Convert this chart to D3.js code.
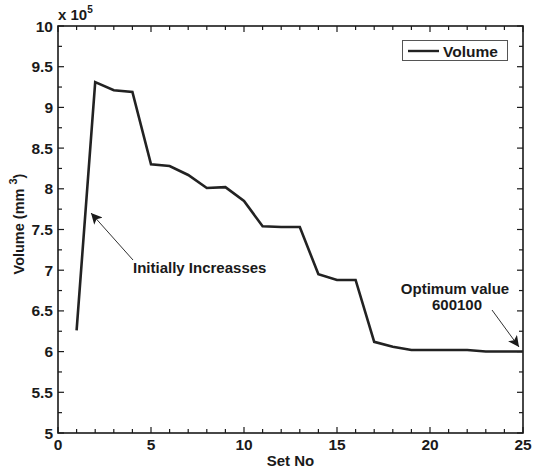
<!DOCTYPE html>
<html>
<head>
<meta charset="utf-8">
<script src="https://cdn.jsdelivr.net/npm/d3@7"></script>
<style>
  body { margin: 0; background: #fff; }
  svg { display: block; font-family: "Liberation Sans", Arial, sans-serif; font-weight: bold; }
</style>
</head>
<body>
<svg id="chart" width="533" height="469"></svg>
<script>
const setNo = [1,2,3,4,5,6,7,8,9,10,11,12,13,14,15,16,17,18,19,20,21,22,23,24,25];
const volume = [6.26,9.31,9.21,9.19,8.30,8.28,8.17,8.01,8.02,7.85,7.54,7.53,7.53,6.95,6.88,6.88,6.12,6.06,6.02,6.02,6.02,6.02,6.001,6.001,6.001];
const xTicks = [0,5,10,15,20,25];
const yTicks = [5,5.5,6,6.5,7,7.5,8,8.5,9,9.5,10];
const seriesName = "Volume";

const svg = d3.select("#chart");
const m = {l: 58, r: 523, t: 26, b: 433};
const x = d3.scaleLinear().domain([0,25]).range([m.l, m.r]);
const y = d3.scaleLinear().domain([5,10]).range([m.b, m.t]);

const ink = "#1a1a1a";

// frame
svg.append("rect").attr("x", m.l).attr("y", m.t).attr("width", m.r-m.l).attr("height", m.b-m.t)
  .attr("fill","none").attr("stroke", ink).attr("stroke-width", 1.6);

const xMinor = d3.range(0,26,1);
const yMinor = d3.range(5,10.001,0.25);

function tick(x1,y1,x2,y2){ svg.append("line").attr("x1",x1).attr("y1",y1).attr("x2",x2).attr("y2",y2).attr("stroke",ink).attr("stroke-width",1.2); }
xMinor.forEach(v => {
  const len = xTicks.includes(v) ? 6 : 4;
  tick(x(v), m.b, x(v), m.b-len);
  tick(x(v), m.t, x(v), m.t+len);
});
yMinor.forEach(v => {
  const len = (Math.abs(v*2 - Math.round(v*2)) < 1e-6) ? 6 : 4;
  tick(m.l, y(v), m.l+len, y(v));
  tick(m.r, y(v), m.r-len, y(v));
});

// tick labels
svg.append("g").selectAll("text").data(xTicks).join("text")
  .attr("x", d => x(d)).attr("y", 450).attr("text-anchor","middle")
  .attr("font-size", 15.5).attr("fill", ink).text(d => d);
svg.append("g").selectAll("text").data(yTicks).join("text")
  .attr("x", 53).attr("y", d => y(d) + 5.5).attr("text-anchor","end")
  .attr("font-size", 15.5).attr("fill", ink).text(d => d);

// exponent
const ex = svg.append("text").attr("x", 58).attr("y", 20).attr("font-size", 15).attr("fill", ink);
ex.append("tspan").text("x 10");
ex.append("tspan").attr("dy", -7).attr("font-size", 10).text("5");

// axis labels
svg.append("text").attr("x", x(12.5)).attr("y", 466).attr("text-anchor","middle")
  .attr("font-size", 15).attr("fill", ink).text("Set No");
const yl = svg.append("text").attr("transform","translate(24,224) rotate(-90)").attr("text-anchor","middle")
  .attr("font-size", 14.5).attr("fill", ink);
yl.append("tspan").text("Volume (mm ");
yl.append("tspan").attr("dy", -7).attr("font-size", 11).text("3");
yl.append("tspan").attr("dy", 7).text(")");

// data line
svg.append("path").datum(setNo.map((s,i)=>[s, volume[i]]))
  .attr("fill","none").attr("stroke", "#222").attr("stroke-width", 2.6).attr("stroke-linejoin","miter")
  .attr("d", d3.line().x(d=>x(d[0])).y(d=>y(d[1])));

// legend
svg.append("rect").attr("x", 402.5).attr("y", 40.5).attr("width", 105).attr("height", 20)
  .attr("fill","#fff").attr("stroke", "#555").attr("stroke-width", 1);
svg.append("line").attr("x1", 408).attr("x2", 439).attr("y1", 51).attr("y2", 51).attr("stroke","#222").attr("stroke-width", 2.4);
svg.append("text").attr("x", 443).attr("y", 56.5).attr("font-size", 15.5).attr("fill", ink).text(seriesName);

// annotations
const defs = svg.append("defs");
defs.append("marker").attr("id","ah").attr("viewBox","0 0 10 10").attr("refX",10).attr("refY",5)
  .attr("markerWidth",11).attr("markerHeight",11).attr("markerUnits","userSpaceOnUse").attr("orient","auto")
  .append("path").attr("d","M0,0 L10,5 L0,10 L2.5,5 Z").attr("fill", ink);

svg.append("line").attr("x1",133).attr("y1",260).attr("x2",91).attr("y2",213)
  .attr("stroke", ink).attr("stroke-width",0.9).attr("marker-end","url(#ah)");
svg.append("text").attr("x",133).attr("y",273).attr("font-size",15).attr("fill",ink).text("Initially Increasses");

svg.append("line").attr("x1",492).attr("y1",310).attr("x2",519).attr("y2",347)
  .attr("stroke", ink).attr("stroke-width",0.9).attr("marker-end","url(#ah)");
svg.append("text").attr("x",455).attr("y",294).attr("text-anchor","middle").attr("font-size",15).attr("fill",ink).text("Optimum value");
svg.append("text").attr("x",457).attr("y",310).attr("text-anchor","middle").attr("font-size",15).attr("fill",ink).text("600100");
</script>
</body>
</html>
